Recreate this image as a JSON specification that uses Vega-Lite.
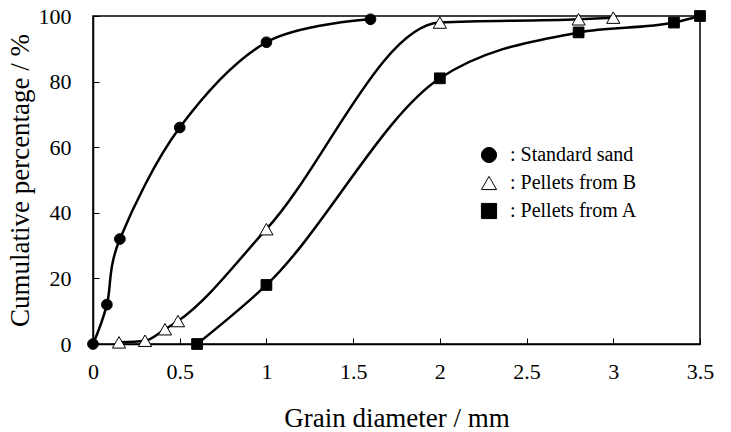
{
  "$schema": "https://vega.github.io/schema/vega-lite/v6.json",
  "width": 607,
  "height": 328,
  "autosize": {"type": "none"},
  "padding": {"left": 93, "top": 16, "right": 31, "bottom": 88},
  "background": "white",
  "config": {
    "font": "Liberation Serif",
    "view": {"stroke": "black", "strokeWidth": 1.5},
    "axis": {
      "domainColor": "black", "domainWidth": 1.5,
      "tickColor": "black", "tickWidth": 1, "tickSize": -6,
      "grid": false, "labelFlush": false,
      "labelFont": "Liberation Serif", "labelFontSize": 22, "labelColor": "black",
      "titleFont": "Liberation Serif", "titleFontSize": 27, "titleFontWeight": "normal", "titleColor": "black"
    },
    "legend": {
      "orient": "none", "legendX": 386, "legendY": 129,
      "symbolSize": 230, "symbolStrokeWidth": 1,
      "labelFont": "Liberation Serif", "labelFontSize": 20, "labelColor": "black",
      "labelOffset": 11, "rowPadding": 8
    }
  },
  "data": {
    "values": [
      {"series": "Standard sand", "d": 0, "p": 0},
      {"series": "Standard sand", "d": 0.08, "p": 12},
      {"series": "Standard sand", "d": 0.155, "p": 32},
      {"series": "Standard sand", "d": 0.5, "p": 66},
      {"series": "Standard sand", "d": 1.0, "p": 92},
      {"series": "Standard sand", "d": 1.6, "p": 99},
      {"series": "Pellets from B", "d": 0.15, "p": 0.5},
      {"series": "Pellets from B", "d": 0.3, "p": 1},
      {"series": "Pellets from B", "d": 0.415, "p": 4.5},
      {"series": "Pellets from B", "d": 0.49, "p": 7},
      {"series": "Pellets from B", "d": 1.0, "p": 35},
      {"series": "Pellets from B", "d": 2.0, "p": 98},
      {"series": "Pellets from B", "d": 2.8, "p": 99},
      {"series": "Pellets from B", "d": 3.0, "p": 99.5},
      {"series": "Pellets from A", "d": 0.6, "p": 0},
      {"series": "Pellets from A", "d": 1.0, "p": 18},
      {"series": "Pellets from A", "d": 2.0, "p": 81},
      {"series": "Pellets from A", "d": 2.8, "p": 95},
      {"series": "Pellets from A", "d": 3.35, "p": 98},
      {"series": "Pellets from A", "d": 3.5, "p": 100}
    ]
  },
  "encoding": {
    "x": {
      "field": "d", "type": "quantitative",
      "scale": {"domain": [0, 3.5], "nice": false},
      "axis": {"title": "Grain diameter / mm", "values": [0, 0.5, 1, 1.5, 2, 2.5, 3, 3.5], "format": "~g", "labelPadding": 23, "titlePadding": 23}
    },
    "y": {
      "field": "p", "type": "quantitative",
      "scale": {"domain": [0, 100], "nice": false},
      "axis": {"title": "Cumulative percentage / %", "values": [0, 20, 40, 60, 80, 100], "labelPadding": 28, "titlePadding": 4}
    },
    "shape": {
      "field": "series", "type": "nominal",
      "scale": {"domain": ["Standard sand", "Pellets from B", "Pellets from A"], "range": ["circle", "triangle-up", "square"]},
      "legend": {"title": null, "labelExpr": "': ' + datum.label"}
    },
    "fill": {
      "field": "series", "type": "nominal",
      "scale": {"domain": ["Standard sand", "Pellets from B", "Pellets from A"], "range": ["black", "white", "black"]},
      "legend": {"title": null, "labelExpr": "': ' + datum.label"}
    },
    "stroke": {
      "field": "series", "type": "nominal",
      "scale": {"domain": ["Standard sand", "Pellets from B", "Pellets from A"], "range": ["black", "black", "black"]},
      "legend": {"title": null, "labelExpr": "': ' + datum.label"}
    }
  },
  "layer": [
    {
      "transform": [{"filter": "datum.series === 'Standard sand'"}],
      "mark": {"type": "line", "interpolate": "cardinal", "color": "black", "strokeWidth": 2.5},
      "encoding": {"detail": {"field": "series"}, "shape": null, "fill": null, "stroke": null}
    },
    {
      "transform": [{"filter": "datum.series !== 'Standard sand'"}],
      "mark": {"type": "line", "interpolate": "monotone", "color": "black", "strokeWidth": 2.5},
      "encoding": {"detail": {"field": "series"}, "shape": null, "fill": null, "stroke": null}
    },
    {
      "transform": [{"filter": "datum.series !== 'Pellets from B'"}],
      "mark": {"type": "point", "filled": true, "size": 115, "strokeWidth": 1, "opacity": 1}
    },
    {
      "transform": [{"filter": "datum.series === 'Pellets from B'"}],
      "mark": {"type": "point", "filled": true, "size": 175, "strokeWidth": 1, "opacity": 1}
    }
  ]
}
